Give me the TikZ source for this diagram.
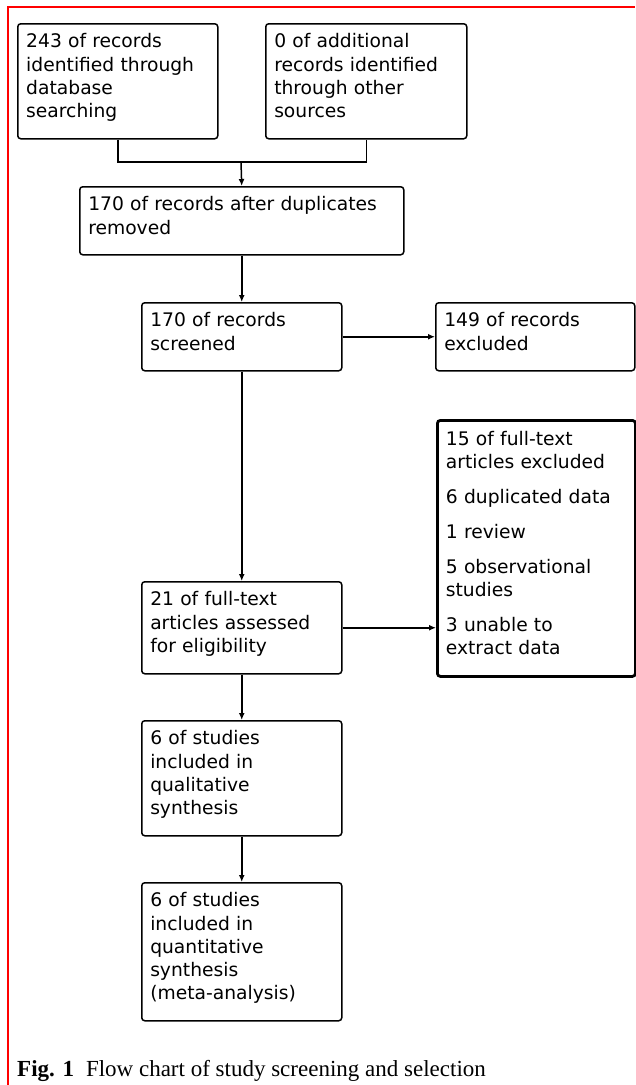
\documentclass[tikz,border=0pt]{standalone}
\usepackage{fontspec}
\newfontfamily\boxfont{DejaVu Sans}
\newfontfamily\capfont{Liberation Serif}
\usetikzlibrary{arrows.meta}
\begin{document}
\begin{tikzpicture}[x=1pt,y=-1pt]
    \tikzstyle{box}=[draw, rounded corners=3pt, line width=1.5pt, anchor=north west, align=left, inner xsep=8.5pt, inner ysep=10pt, text height=14pt, font=\boxfont\fontsize{18.7}{23.3}\selectfont]
    \tikzstyle{bold box}=[box, line width=2.8pt]
    \tikzstyle{arr}=[-{Latex[length=7pt,width=6pt]}, line width=1.5pt]

    \useasboundingbox (0,0) rectangle (635,1085);
    \draw[red, line width=2.5pt] (8,1085) -- (8,7) -- (635,7);

    \node[box, text width=183pt, text depth=81pt] (db) at (17,23) {243 of records\\identified through\\database\\searching};
    \node[box, text width=184pt, text depth=81pt] (other) at (265,23) {0 of additional\\records identified\\through other\\sources};
    \node[box, text width=307pt, text depth=34pt] (dedup) at (79,186) {170 of records after duplicates\\removed};
    \node[box, text width=183pt, text depth=34pt] (screen) at (141,302) {170 of records\\screened};
    \node[box, text width=182pt, text depth=34pt] (excl) at (435,302) {149 of records\\excluded};
    \node[bold box, text width=181pt, text depth=220pt, inner ysep=11pt] (ftexcl) at (436,419) {15 of full-text\\articles excluded\\[11.5pt]6 duplicated data\\[11.5pt]1 review\\[11.5pt]5 observational\\studies\\[11.5pt]3 unable to\\extract data};
    \node[box, text width=183pt, text depth=58pt] (ft) at (141,581) {21 of full-text\\articles assessed\\for eligibility};
    \node[box, text width=183pt, text depth=81pt] (qual) at (141,720) {6 of studies\\included in\\qualitative\\synthesis};
    \node[box, text width=183pt, text depth=104pt] (quant) at (141,882) {6 of studies\\included in\\quantitative\\synthesis\\(meta-analysis)};

    \coordinate (join) at (241,162);
    \draw[line width=1.5pt] (db.south) |- (join) -| (other.south);
    \draw[arr] (join) -- (dedup.north);
    \draw[arr] (dedup.south) -- (screen.north);
    \draw[arr] (screen.east) -- (excl.west);
    \draw[arr] (screen.south) -- (ft.north);
    \draw[arr] (ft.east) -- (ft.east -| ftexcl.west);
    \draw[arr] (ft.south) -- (qual.north);
    \draw[arr] (qual.south) -- (quant.north);

    \node[anchor=base west, inner sep=0pt, font=\capfont\fontsize{23}{27}\selectfont] (cap) at (17,1076) {\textbf{Fig. 1}\hspace{12pt}Flow chart of study screening and selection};
\end{tikzpicture}
\end{document}
